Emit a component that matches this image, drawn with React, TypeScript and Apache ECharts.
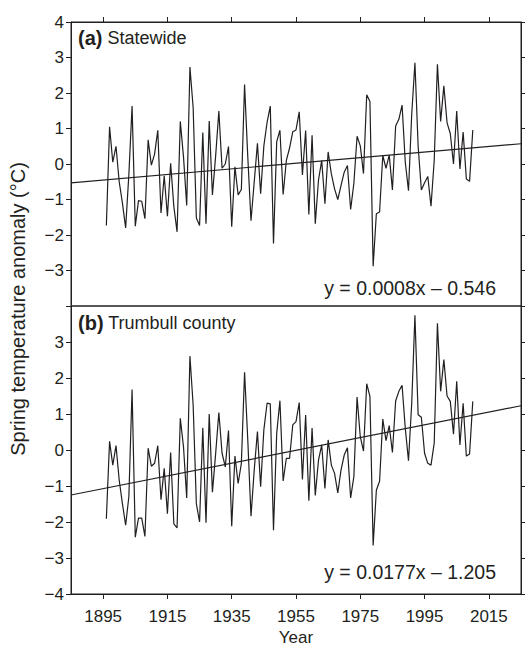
import { useEffect, useRef } from "react";
import * as echarts from "echarts";

// Spring temperature anomaly (°C), one value per year starting in START_YEAR
const START_YEAR = 1896;
const statewide = [
  -1.73, 1.05, 0.05, 0.5, -0.5, -1.1, -1.8, -0.3, 1.63, -1.75,
  -1.03, -1.05, -1.54, 0.68, -0.03, 0.28, 0.95, -1.38, -0.33, -1.47,
  0.02, -1.2, -1.91, 1.2, 0.2, -1.17, 2.73, 1.59, -1.52, -1.73,
  0.89, -1.68, 1.21, -0.87, 0.23, 1.49, -0.12, 0.0, 0.49, -1.77,
  -0.08, -0.87, -0.72, 2.24, 0.2, -1.6, -0.51, 0.58, -0.84, 0.51,
  1.17, 1.63, -2.24, 0.63, 0.95, -0.86, 0.1, 0.45, 0.91, 0.96,
  1.47, -0.31, 0.94, -1.42, 0.81, -1.68, -0.45, 0.1, -1.12, 0.34,
  -0.28, -0.7, -1.0, -0.61, -0.23, -0.04, -1.28, -0.55, 0.78, 0.51,
  -0.27, 1.95, 1.76, -2.88, -1.4, -1.35, 0.24, -0.12, 0.25, -0.73,
  1.07, 1.26, 1.66, 0.05, -0.75, 1.4, 2.85, 0.5, -0.73, -0.53,
  -0.35, -1.19, 0.1, 2.81, 1.2, 2.2, 1.16, 0.86, 0.0, 1.49,
  -0.14, 0.9, -0.42, -0.49, 0.96,
];
const trumbull = [
  -1.91, 0.24, -0.42, 0.12, -0.84, -1.49, -2.09, -1.3, 1.68, -2.42,
  -1.89, -1.89, -2.4, 0.05, -0.45, -0.37, 0.12, -1.38, -0.51, -1.77,
  -0.07, -2.05, -2.16, 0.88, 0.09, -1.33, 2.61, 1.25, -1.49, -2.0,
  0.62, -2.02, 1.0, -1.17, -0.1, 1.04, -0.09, -0.47, 0.54, -2.12,
  -0.17, -0.93, -0.37, 2.16, 0.28, -1.84, -0.56, 0.51, -1.02, 0.56,
  1.3, 1.28, -2.23, 0.47, 1.37, -0.86, -0.23, -0.23, 0.7, 0.79,
  1.32, -0.82, 0.97, -1.41, 0.61, -1.26, -0.28, 0.14, -1.07, 0.28,
  -0.42, -0.65, -1.19, -0.56, -0.14, 0.06, -1.33, -0.74, 1.47, 0.37,
  -0.03, 1.84, 1.49, -2.65, -1.12, -0.87, 0.86, 0.26, 0.68, -0.07,
  1.36, 1.63, 1.8, 0.6, -0.3, 1.3, 3.74, 0.98, 0.91, -0.09,
  -0.37, -0.42, 0.19, 3.52, 1.63, 2.51, 1.5, 1.35, 0.44, 1.91,
  0.14, 1.3, -0.17, -0.11, 1.35,
];
const years = statewide.map((_, i) => START_YEAR + i);

// Linear trend lines (end points at the plot edges)
const trendYears = [1885, 2025];
const trendStatewide = [-0.53, 0.57];
const trendTrumbull = [-1.25, 1.23];

// Axes
const yearTicks = [1895, 1915, 1935, 1955, 1975, 1995, 2015];
const xMin = 1885;
const xMax = 2025;
const yMin = -4;
const yMax = 4;

// Texts
const panelA = ["(a)", "Statewide"];
const panelB = ["(b)", "Trumbull county"];
const eqStatewide = "y = 0.0008x \u2013 0.546";
const eqTrumbull = "y = 0.0177x \u2013 1.205";
const yTitle = "Spring temperature anomaly (\u00B0C)";
const xTitle = "Year";

const INK = "#231f20";
const FONT = "'Liberation Sans', Arial, Helvetica, sans-serif";

const fmt = (v: number) => (v < 0 ? "\u2212" + Math.abs(v) : String(v));

export default function App() {
  const ref = useRef<HTMLDivElement>(null);
  useEffect(() => {
    if (!ref.current) return;
    const chart = echarts.init(ref.current, undefined, { renderer: "svg" });
    const L = 71;
    const R = 4;
    const T0 = 22;
    const H0 = 284;
    const T1 = 306;
    const H1 = 288;

    const baseY = (gi: number, hide: number) => [
      {
        gridIndex: gi,
        type: "value",
        position: "left",
        min: yMin,
        max: yMax,
        interval: 1,
        axisLine: { show: true, onZero: false, lineStyle: { color: INK, width: 1 } },
        axisTick: { show: true, inside: false, length: 5, lineStyle: { color: INK } },
        axisLabel: {
          show: true,
          color: INK,
          fontSize: 17,
          fontFamily: FONT,
          margin: 7,
          formatter: (v: number) => (v === hide ? "" : fmt(v)),
        },
        splitLine: { show: false },
      },
      {
        gridIndex: gi,
        type: "value",
        position: "right",
        min: yMin,
        max: yMax,
        interval: 1,
        axisLine: { show: true, onZero: false, lineStyle: { color: INK, width: 1 } },
        axisTick: { show: true, inside: false, length: 4, lineStyle: { color: INK } },
        axisLabel: { show: false },
        splitLine: { show: false },
      },
    ];

    const lineStyle = { color: INK, width: 1.2 };

    chart.setOption({
      animation: false,
      backgroundColor: "#ffffff",
      grid: [
        { left: L, right: R, top: T0, height: H0, show: true, borderColor: INK, borderWidth: 1 },
        { left: L, right: R, top: T1, height: H1, show: true, borderColor: INK, borderWidth: 1 },
      ],
      xAxis: [
        {
          gridIndex: 0,
          type: "value",
          position: "top",
          min: xMin,
          max: xMax,
          axisLine: { show: true, onZero: false, lineStyle: { color: INK, width: 1 } },
          axisTick: { show: true, inside: false, length: 5, customValues: yearTicks, lineStyle: { color: INK } },
          axisLabel: { show: false },
          splitLine: { show: false },
        },
        {
          gridIndex: 1,
          type: "value",
          position: "bottom",
          min: xMin,
          max: xMax,
          axisLine: { show: true, onZero: false, lineStyle: { color: INK, width: 1 } },
          axisTick: { show: true, inside: false, length: 5, customValues: yearTicks, lineStyle: { color: INK } },
          axisLabel: {
            show: true,
            customValues: yearTicks,
            color: INK,
            fontSize: 17,
            fontFamily: FONT,
            margin: 14,
            formatter: (v: number) => String(v),
          },
          splitLine: { show: false },
        },
      ],
      yAxis: [...baseY(0, -4), ...baseY(1, 4)],
      series: [
        {
          type: "line",
          xAxisIndex: 0,
          yAxisIndex: 0,
          data: years.map((y, i) => [y, statewide[i]]),
          showSymbol: false,
          lineStyle,
        },
        {
          type: "line",
          xAxisIndex: 0,
          yAxisIndex: 0,
          data: trendYears.map((y, i) => [y, trendStatewide[i]]),
          showSymbol: false,
          lineStyle,
        },
        {
          type: "line",
          xAxisIndex: 1,
          yAxisIndex: 2,
          data: years.map((y, i) => [y, trumbull[i]]),
          showSymbol: false,
          lineStyle,
        },
        {
          type: "line",
          xAxisIndex: 1,
          yAxisIndex: 2,
          data: trendYears.map((y, i) => [y, trendTrumbull[i]]),
          showSymbol: false,
          lineStyle,
        },
      ],
      graphic: [
        {
          type: "text",
          left: 78,
          top: 28,
          style: {
            text: `{b|${panelA[0]}} ${panelA[1]}`,
            fill: INK,
            font: `18px ${FONT}`,
            rich: { b: { fontWeight: "bold", fontSize: 20, fontFamily: FONT, fill: INK } },
          },
        },
        {
          type: "text",
          left: 78,
          top: 313,
          style: {
            text: `{b|${panelB[0]}} ${panelB[1]}`,
            fill: INK,
            font: `18px ${FONT}`,
            rich: { b: { fontWeight: "bold", fontSize: 20, fontFamily: FONT, fill: INK } },
          },
        },
        {
          type: "text",
          right: 29,
          top: 278,
          style: { text: eqStatewide, fill: INK, font: `19.5px ${FONT}` },
        },
        {
          type: "text",
          right: 29,
          top: 562,
          style: { text: eqTrumbull, fill: INK, font: `19.5px ${FONT}` },
        },
        {
          type: "text",
          x: 18,
          y: 309,
          rotation: Math.PI / 2,
          style: {
            text: yTitle,
            fill: INK,
            font: `20px ${FONT}`,
            align: "center",
            verticalAlign: "middle",
          },
        },
        {
          type: "text",
          x: 296,
          y: 637,
          style: {
            text: xTitle,
            fill: INK,
            font: `17px ${FONT}`,
            align: "center",
            verticalAlign: "middle",
          },
        },
      ],
    });
    return () => chart.dispose();
  }, []);
  return (
    <div
      ref={ref}
      style={{ position: "fixed", left: 0, top: 0, width: 525, height: 648, background: "#fff" }}
    />
  );
}
